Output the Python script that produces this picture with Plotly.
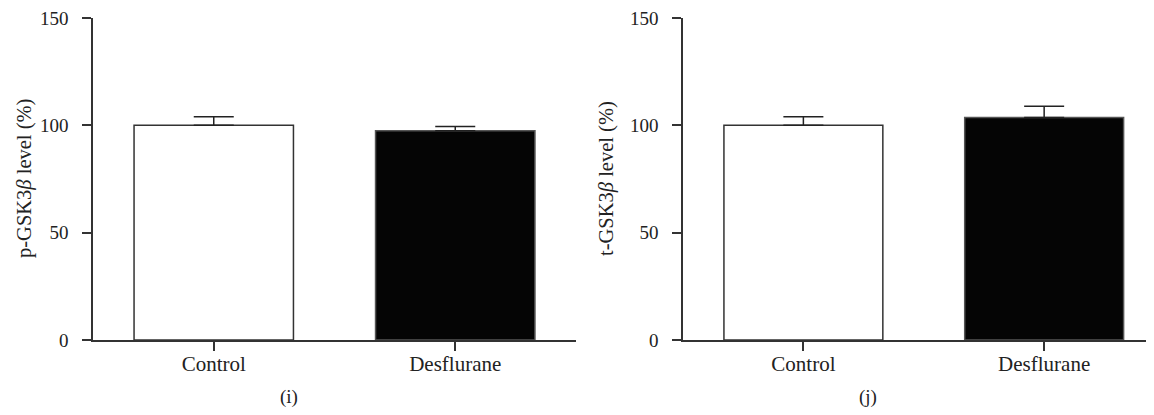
import plotly.graph_objects as go

categories = ["Control", "Desflurane"]
p_gsk_values = [100.0, 97.5]
p_gsk_errors = [4.0, 2.0]
t_gsk_values = [100.0, 103.7]
t_gsk_errors = [4.0, 5.2]
bar_colors = ["#ffffff", "#050505"]
y_ticks = [0, 50, 100, 150]
panel_labels = ["(i)", "(j)"]
y_titles = ["p-GSK3<i>β</i> level (%)", "t-GSK3<i>β</i> level (%)"]

# page body has an 8px default margin; figure is sized to fit inside the window
OFF = 8
W, H = 1154 - 2 * OFF, 415 - 2 * OFF
FONT = "Liberation Serif"
AX = "#333333"


def px_x(v):
    return (v - OFF) / W


def px_y(v):
    return 1 - (v - OFF) / H


fig = go.Figure()
for i, (vals, errs) in enumerate([(p_gsk_values, p_gsk_errors), (t_gsk_values, t_gsk_errors)]):
    fig.add_trace(go.Bar(
        x=categories, y=vals,
        xaxis="x" if i == 0 else "x2", yaxis="y" if i == 0 else "y2",
        width=0.66,
        marker=dict(color=bar_colors, line=dict(color=["#333333", "#555555"], width=1.5)),
        error_y=dict(type="data", array=errs, arrayminus=[0, 0], symmetric=False,
                     color="#222222", thickness=1.5, width=20),
        showlegend=False,
    ))

axis_common = dict(showline=True, linecolor=AX, linewidth=1.5, ticks="outside",
                   ticklen=9, tickwidth=1.5, tickcolor=AX, showgrid=False, zeroline=False,
                   automargin=False, ticklabeloverflow="allow")
xfont = dict(family=FONT, size=21, color="#222222")
yfont = dict(family=FONT, size=19, color="#222222")

y_dom = [px_y(340), px_y(18)]
fig.update_layout(
    width=W, height=H,
    margin=dict(l=0, r=0, t=0, b=0),
    paper_bgcolor="white", plot_bgcolor="white",
    xaxis=dict(domain=[px_x(93), px_x(576)], range=[-0.5, 1.5], anchor="y",
               ticklabelstandoff=-5, tickfont=xfont, **axis_common),
    yaxis=dict(domain=y_dom, range=[0, 150], tickvals=y_ticks, anchor="x",
               ticklabelstandoff=10, tickfont=yfont, **axis_common),
    xaxis2=dict(domain=[px_x(683), 1.0], range=[-0.5, 1.423], anchor="y2",
                ticklabelstandoff=-5, tickfont=xfont, **axis_common),
    yaxis2=dict(domain=y_dom, range=[0, 150], tickvals=y_ticks, anchor="x2",
                ticklabelstandoff=10, tickfont=yfont, **axis_common),
)

annotations = []
for x_c, txt in zip([24, 606], y_titles):
    annotations.append(dict(x=px_x(x_c), y=(y_dom[0] + y_dom[1]) / 2, xref="paper", yref="paper",
                            text=txt, textangle=-90, showarrow=False, xanchor="center", yanchor="middle",
                            font=dict(family=FONT, size=20.5, color="#222222")))
for x_c, txt in zip([289, 868], panel_labels):
    annotations.append(dict(x=px_x(x_c), y=px_y(397), xref="paper", yref="paper", text=txt,
                            showarrow=False, xanchor="center", yanchor="middle",
                            font=dict(family=FONT, size=19, color="#222222")))
fig.update_layout(annotations=annotations)

fig.write_html("out.html")
